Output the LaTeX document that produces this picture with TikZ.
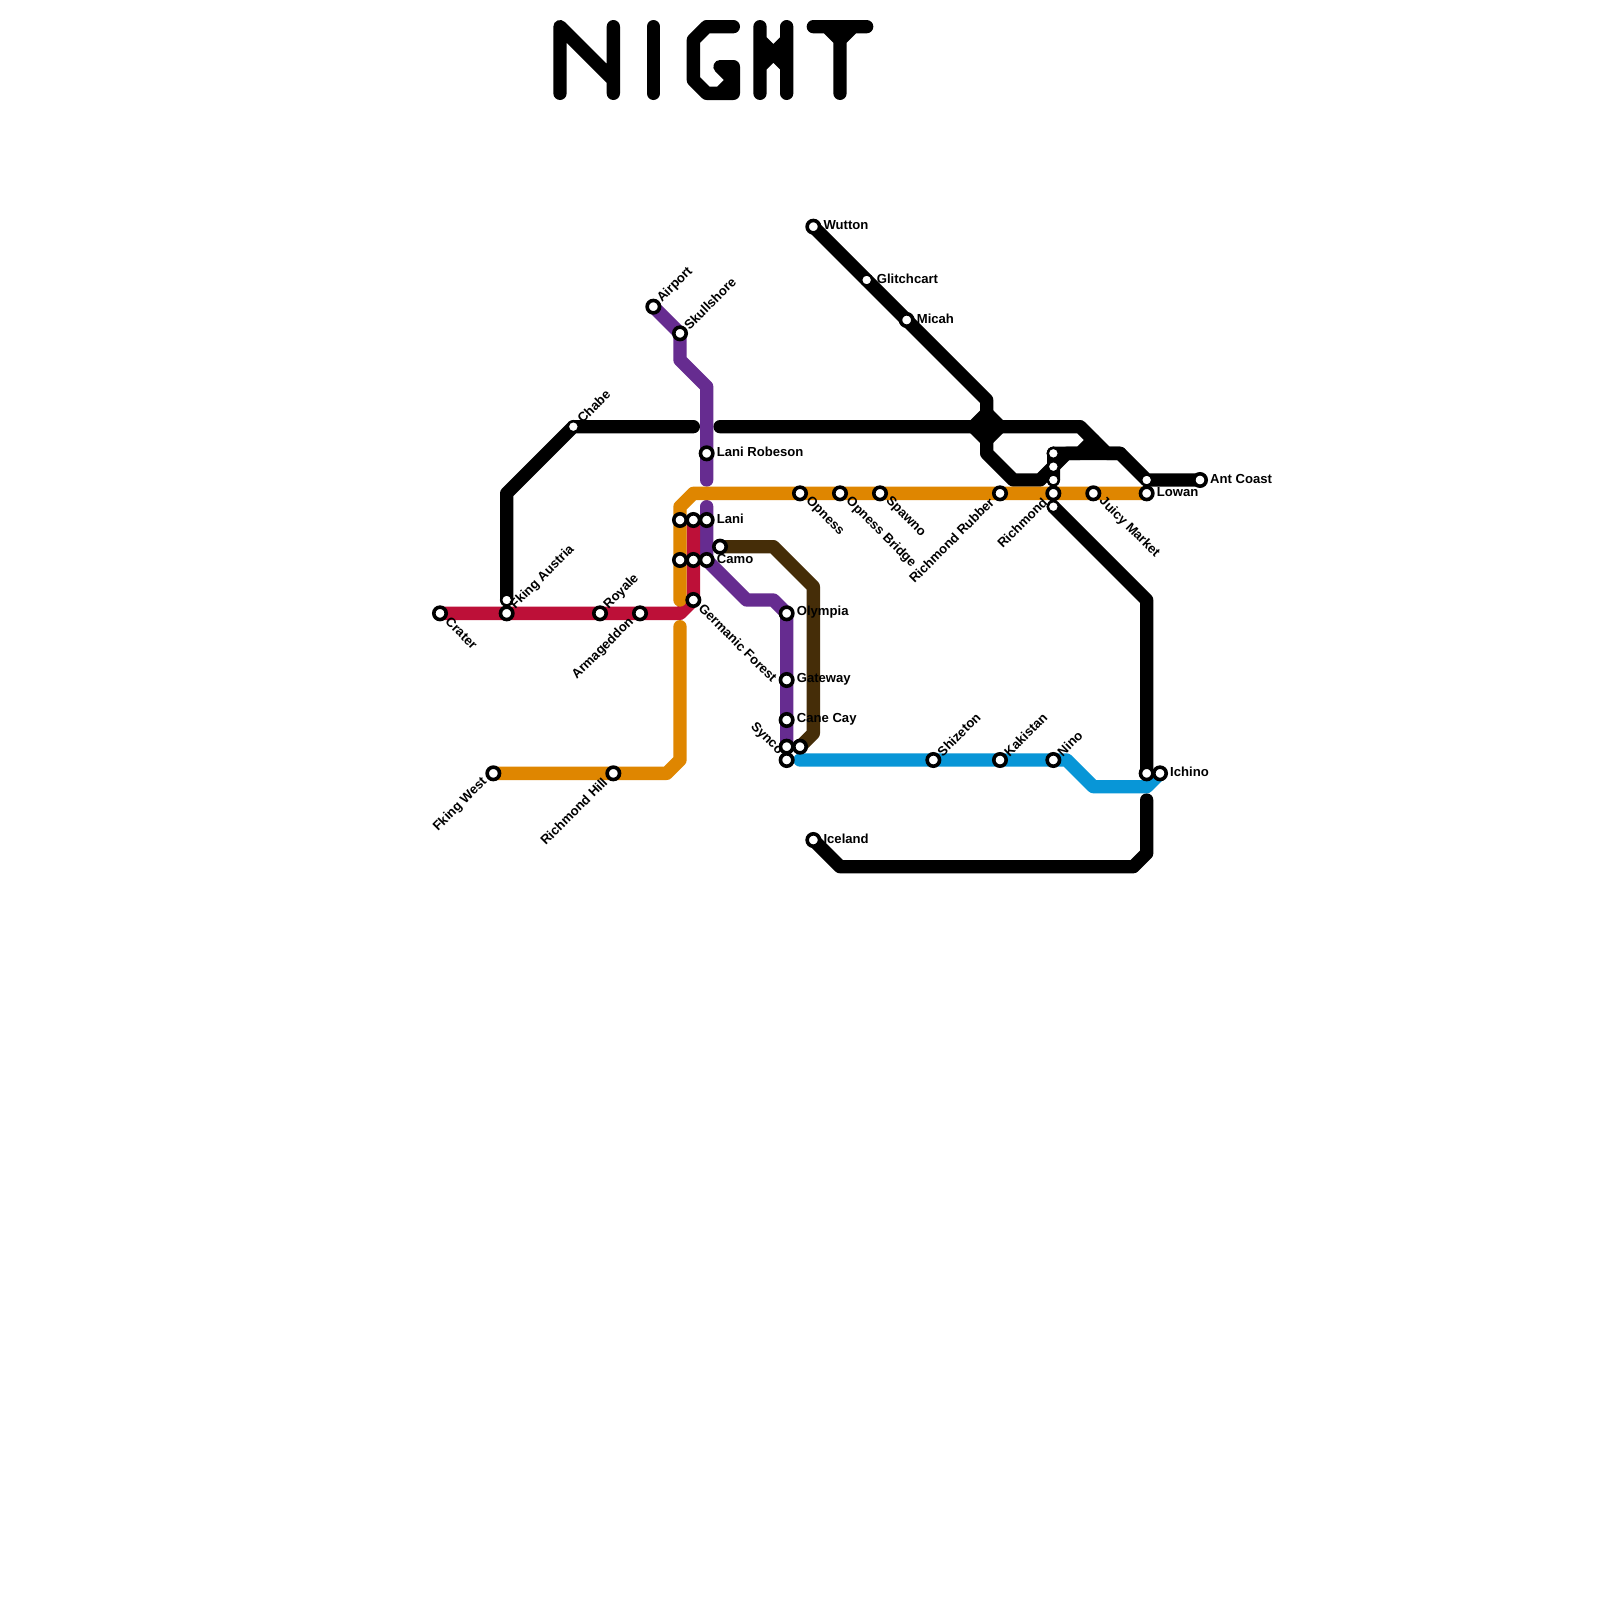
\documentclass[tikz,border=0pt]{standalone}
\usepackage{fontspec}
\setmainfont{Liberation Sans}
\usetikzlibrary{backgrounds}
\definecolor{cpurple}{HTML}{662C90}
\definecolor{corange}{HTML}{DF8600}
\definecolor{cred}{HTML}{BD1038}
\definecolor{cbrown}{HTML}{452D08}
\definecolor{cblue}{HTML}{0896D7}
\tikzset{
  x=13.3333pt,y=-13.3333pt,
  railline/.style={line width=13.33pt,line cap=round,line join=round},
  glyph/.style={railline,draw=black},
  bigstop/.style={circle,draw=black,fill=white,line width=3.6pt,minimum size=12.4pt,inner sep=0pt,outer sep=0pt},
  smallstop/.style={circle,draw=black,fill=white,line width=2.3pt,minimum size=11.1pt,inner sep=0pt,outer sep=0pt},
  stoplabel/.style={font=\bfseries\fontsize{13.1}{15}\selectfont,inner sep=0pt,text=black}
}
\newcommand{\stopE}[5]{\node[#1] (#2) at (#3,#4) {}; \node[stoplabel,anchor=west] (#2L) at (#3+0.75,#4-0.09) {#5};}
\newcommand{\stopNE}[5]{\node[#1] (#2) at (#3,#4) {}; \node[stoplabel,anchor=west,rotate=45] (#2L) at (#3+0.46,#4-0.46) {#5};}
\newcommand{\stopSE}[5]{\node[#1] (#2) at (#3,#4) {}; \node[stoplabel,anchor=west,rotate=-45] (#2L) at (#3+0.58,#4+0.45) {#5};}
\newcommand{\stopSW}[5]{\node[#1] (#2) at (#3,#4) {}; \node[stoplabel,anchor=east,rotate=45] (#2L) at (#3-0.62,#4+0.5) {#5};}
\newcommand{\stopX}[4]{\node[#1] (#2) at (#3,#4) {};}
\begin{document}
\begin{tikzpicture}
\useasboundingbox (0,0) rectangle (120,120);
% stations
\stopE{bigstop}{wutton}{61}{17}{Wutton}
\stopE{smallstop}{glitchcart}{65}{21}{Glitchcart}
\stopE{bigstop}{micah}{68}{24}{Micah}
\stopNE{bigstop}{airport}{49}{23}{Airport}
\stopNE{bigstop}{skullshore}{51}{25}{Skullshore}
\stopNE{smallstop}{chabe}{43}{32}{Chabe}
\stopE{bigstop}{lanirobeson}{53}{34}{Lani Robeson}
\stopSE{bigstop}{opness}{60}{37}{Opness}
\stopSE{bigstop}{opnessbridge}{63}{37}{Opness Bridge}
\stopSE{bigstop}{spawno}{66}{37}{Spawno}
\stopSW{bigstop}{richmondrubber}{75}{37}{Richmond Rubber}
\stopX{smallstop}{rtop}{79}{34}
\stopX{smallstop}{rb}{79}{35}
\stopX{smallstop}{rc}{79}{36}
\stopSW{bigstop}{richmond}{79}{37}{Richmond}
\stopX{smallstop}{rd}{79}{38}
\stopSE{bigstop}{juicymarket}{82}{37}{Juicy Market}
\stopX{smallstop}{lowantop}{86}{36}
\stopE{bigstop}{lowan}{86}{37}{Lowan}
\stopE{bigstop}{antcoast}{90}{36}{Ant Coast}
\stopX{bigstop}{lania}{51}{39}
\stopX{bigstop}{lanib}{52}{39}
\stopE{bigstop}{lani}{53}{39}{Lani}
\stopX{bigstop}{camoa}{51}{42}
\stopX{bigstop}{camob}{52}{42}
\stopE{bigstop}{camo}{53}{42}{Camo}
\stopX{bigstop}{brownstart}{54}{41}
\stopSE{bigstop}{crater}{33}{46}{Crater}
\stopX{smallstop}{fkingtop}{38}{45}
\stopNE{bigstop}{fkingaustria}{38}{46}{Fking Austria}
\stopNE{bigstop}{royale}{45}{46}{Royale}
\stopSW{bigstop}{armageddon}{48}{46}{Armageddon}
\stopSE{bigstop}{germanic}{52}{45}{Germanic Forest}
\stopE{bigstop}{olympia}{59}{46}{Olympia}
\stopE{bigstop}{gateway}{59}{51}{Gateway}
\stopE{bigstop}{canecay}{59}{54}{Cane Cay}
\stopX{bigstop}{syncoa}{59}{56}
\stopX{bigstop}{syncob}{60}{56}
\stopX{bigstop}{synco}{59}{57}
\node[stoplabel,anchor=east,rotate=-45] (syncoL) at (58.55,56.45) {Synco};
\stopNE{bigstop}{shizeton}{70}{57}{Shizeton}
\stopNE{bigstop}{kakistan}{75}{57}{Kakistan}
\stopNE{bigstop}{nino}{79}{57}{Nino}
\stopX{bigstop}{ichinob}{86}{58}
\stopE{bigstop}{ichino}{87}{58}{Ichino}
\stopSW{bigstop}{fkingwest}{37}{58}{Fking West}
\stopSW{bigstop}{richmondhill}{46}{58}{Richmond Hill}
\stopE{bigstop}{iceland}{61}{63}{Iceland}
\coordinate (lineA) at (52,32);
\coordinate (lineB) at (54,32);
\coordinate (purpleA) at (53,36);
\coordinate (purpleB) at (53,38);
\coordinate (orangeA) at (51,45);
\coordinate (orangeB) at (51,47);
\coordinate (southA) at (86,60);
\begin{pgfonlayer}{background}
\fill[white] (0,0) rectangle (120,120);
% title
\draw[glyph] (42,7) -- (42,2) -- (46,6) (46,2) -- (46,7);
\draw[glyph] (49,2) -- (49,7);
\draw[glyph] (55,2) -- (53,2) -- (52,3) -- (52,6) -- (53,7) -- (55,7) -- (55,5) -- (54,5) -- (55,6) -- (54,7);
\draw[glyph] (57,2) -- (57,7) (59,2) -- (59,7) (57,3) -- (59,5) (57,5) -- (59,3);
\draw[glyph] (61,2) -- (65,2) (63,7) -- (63,3) -- (62,2) (63,3) -- (64,2);
% black lines
\draw[railline,draw=black] (fkingtop.center) -- (38,37) -- (chabe.center) -- (lineA);
\draw[railline,draw=black] (lineB) -- (81,32) -- (83,34) -- (84,34) -- (lowantop.center) -- (antcoast.center);
\draw[railline,draw=black] (rc.center) -- (rb.center) -- (80,34) -- (84,34);
\draw[railline,draw=black] (rtop.center) -- (81,34) -- (82,33);
\draw[railline,draw=black] (rtop.center) -- (rb.center);
\draw[railline,draw=black] (wutton.center) -- (74,30) -- (74,34) -- (76,36) -- (78,36) -- (rb.center);
\draw[railline,draw=black,fill=black] (73,32) -- (74,31) -- (75,32) -- (74,33) -- cycle;
\draw[railline,draw=black] (rd.center) -- (86,45) -- (ichinob.center);
\draw[railline,draw=black] (southA) -- (86,64) -- (85,65) -- (63,65) -- (iceland.center);
% colour lines
\draw[railline,draw=cbrown] (brownstart.center) -- (58,41) -- (61,44) -- (61,55) -- (syncob.center);
\draw[railline,draw=cblue] (60,57) -- (nino.center) -- (80,57) -- (82,59) -- (86,59) -- (ichino.center);
\draw[railline,draw=cpurple] (airport.center) -- (skullshore.center) -- (51,27) -- (53,29) -- (purpleA);
\draw[railline,draw=cpurple] (purpleB) -- (camo.center) -- (56,45) -- (58,45) -- (olympia.center) -- (syncoa.center);
\draw[railline,draw=cred] (crater.center) -- (51,46) -- (germanic.center) -- (lanib.center);
\draw[railline,draw=corange] (lowan.center) -- (52,37) -- (51,38) -- (orangeA);
\draw[railline,draw=corange] (orangeB) -- (51,57) -- (50,58) -- (fkingwest.center);
\end{pgfonlayer}
\end{tikzpicture}
\end{document}
